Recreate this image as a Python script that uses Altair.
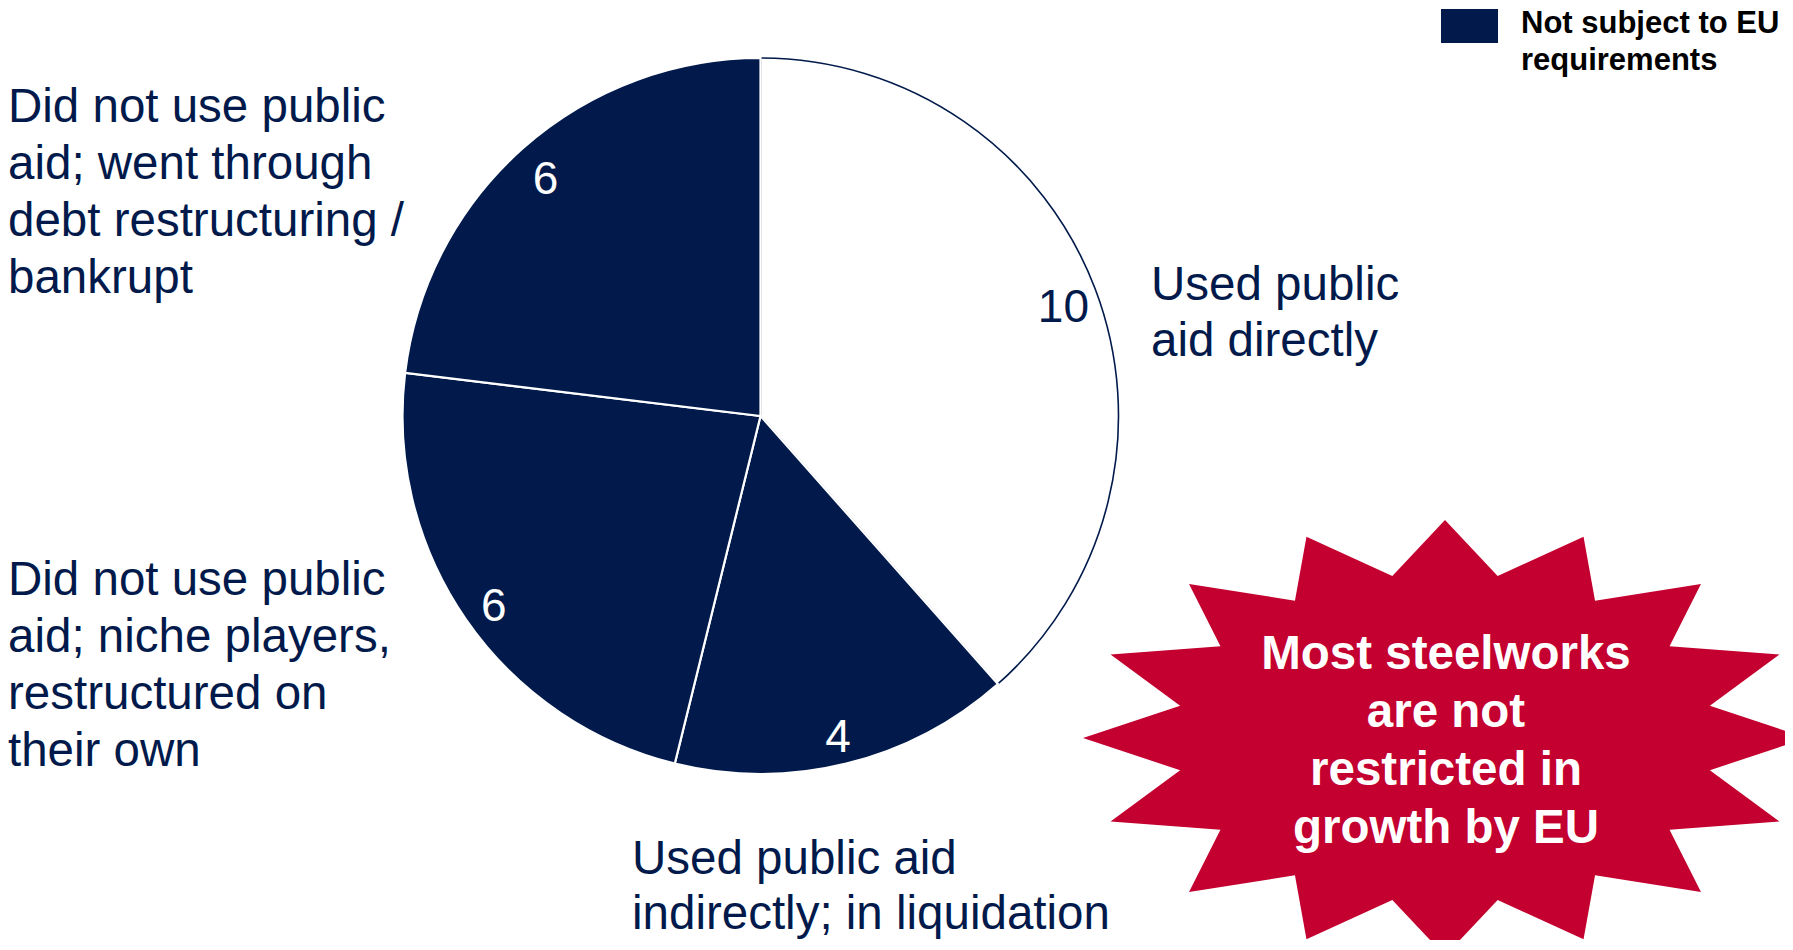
import math
import altair as alt
import pandas as pd

# ---------------- data ----------------
categories = [
    "Used public\naid directly",
    "Used public aid\nindirectly; in liquidation",
    "Did not use public\naid; niche players,\nrestructured on\ntheir own",
    "Did not use public\naid; went through\ndebt restructuring /\nbankrupt",
]
counts = [10, 4, 6, 6]
groups = [
    "Subject to EU requirements",
    "Not subject to EU requirements",
    "Not subject to EU requirements",
    "Not subject to EU requirements",
]
legend_groups = ["Not subject to EU requirements"]
legend_labels = ["Not subject to EU\nrequirements"]
callout_lines = ["Most steelworks", "are not", "restricted in", "growth by EU"]

# ---------------- style ----------------
NAVY = "#011A4B"
RED = "#C3002F"
FONT = "Liberation Sans"

df = pd.DataFrame({"category": categories, "count": counts,
                   "group": groups, "idx": list(range(len(counts)))})
legend_df = pd.DataFrame({"group": legend_groups, "label": legend_labels})
callout_df = pd.DataFrame({"callout": ["\n".join(callout_lines)]})

color_scale = alt.Scale(domain=["Subject to EU requirements", "Not subject to EU requirements"],
                        range=["#FFFFFF", NAVY])

CX, CY, R = 752.5, 408, 358

base = alt.Chart(df).encode(
    theta=alt.Theta("count:Q", stack=True),
    order=alt.Order("idx:Q"),
    x=alt.value(CX),
    y=alt.value(CY),
)

pie = base.mark_arc(outerRadius=R).encode(
    color=alt.Color("group:N", scale=color_scale, legend=None),
    stroke=alt.when(alt.datum.idx == 0).then(alt.value(NAVY)).otherwise(alt.value("white")),
    strokeWidth=alt.when(alt.datum.idx == 0).then(alt.value(1.6)).otherwise(alt.value(2.2)),
)

numbers = base.mark_text(radius=324, dy=7, fontSize=46, font=FONT, align="center",
                         baseline="middle").encode(
    text=alt.Text("count:Q"),
    color=alt.when(alt.datum.idx == 0).then(alt.value(NAVY)).otherwise(alt.value("white")),
)

# anchor of each category label (left edge, first baseline, line height)
label_anchor = [(1143, 292, 56), (624, 866, 55), (0, 587, 57), (0, 114, 57)]
labels = []
for i, (lx, ly, lh) in enumerate(label_anchor):
    labels.append(
        alt.Chart(df).transform_filter(alt.datum.idx == i).mark_text(
            align="left", baseline="alphabetic", lineBreak="\n", lineHeight=lh,
            fontSize=47.5, font=FONT, color=NAVY,
        ).encode(text="category:N", x=alt.value(lx), y=alt.value(ly))
    )

# star burst shape (unit path, 16 spikes)
pts = []
for k in range(32):
    a = math.radians(k * 11.25)
    rx, ry = (1.0, 0.602) if k % 2 == 0 else (0.746, 0.456)
    pts.append((rx * math.sin(a), -ry * math.cos(a)))
STAR_PATH = "M" + "L".join(f"{px:.4f},{py:.4f}" for px, py in pts) + "Z"

star = alt.Chart(callout_df).mark_point(
    shape=STAR_PATH, size=(2 * 362) ** 2, filled=True, color=RED, opacity=1, strokeWidth=0,
).encode(x=alt.value(1437), y=alt.value(730))

star_text = alt.Chart(callout_df).mark_text(
    align="center", baseline="alphabetic", lineBreak="\n", lineHeight=58,
    fontSize=47.5, fontWeight="bold", font=FONT, color="white",
).encode(text="callout:N", x=alt.value(1438), y=alt.value(661))

swatch = alt.Chart(legend_df).mark_rect().encode(
    x=alt.value(1433), x2=alt.value(1490), y=alt.value(1), y2=alt.value(35),
    color=alt.Color("group:N", scale=color_scale, legend=None),
)
legend_text = alt.Chart(legend_df).mark_text(
    align="left", baseline="alphabetic", lineBreak="\n", lineHeight=36.5,
    fontSize=31, fontWeight="bold", font=FONT, color="black",
).encode(text="label:N", x=alt.value(1513), y=alt.value(25))

chart = alt.layer(pie, numbers, *labels, star, star_text, swatch, legend_text).properties(
    width=1777, height=932,
    autosize=alt.AutoSizeParams(type="fit", contains="padding"),
    padding=0,
    background="white",
).configure_view(stroke=None)

chart.save("out.html", embed_options={"renderer": "svg", "actions": False})
